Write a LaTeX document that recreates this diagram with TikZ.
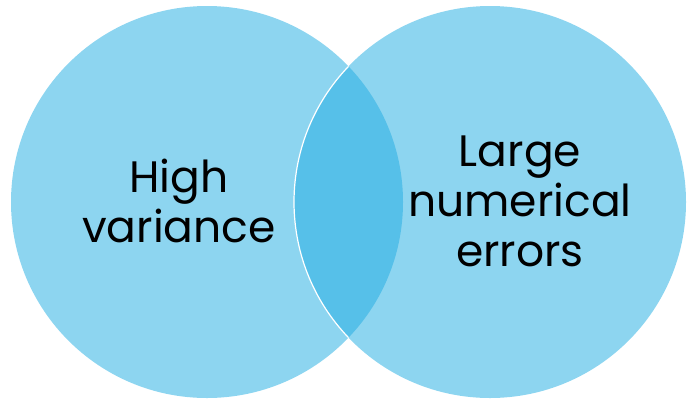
\documentclass[tikz,border=0pt]{standalone}
\usepackage{fontspec}
\setmainfont{Poppins}
\definecolor{setblue}{RGB}{141,213,240}
\definecolor{lensblue}{RGB}{86,192,233}
\begin{document}
\begin{tikzpicture}[x=1pt,y=-1pt,
  setfill/.style={fill=setblue,draw=none},
  lbl/.style={align=center,font=\fontsize{44}{50}\selectfont,text=black,inner sep=0pt}]
\useasboundingbox (0,0) rectangle (700,405);
\fill[setblue] (207,202) circle[radius=196];
\fill[setblue] (490,202) circle[radius=196];
\begin{scope}
  \clip (207,202) circle[radius=196];
  \fill[lensblue] (490,202) circle[radius=196];
\end{scope}
\begin{scope}
  \clip (207,202) circle[radius=196];
  \draw[white,line width=1.2pt] (490,202) circle[radius=196];
\end{scope}
\node[lbl] (hv) at (179,201) {High\\variance};
\node[lbl] (lne) at (520,201) {Large\\numerical\\errors};
\end{tikzpicture}
\end{document}
